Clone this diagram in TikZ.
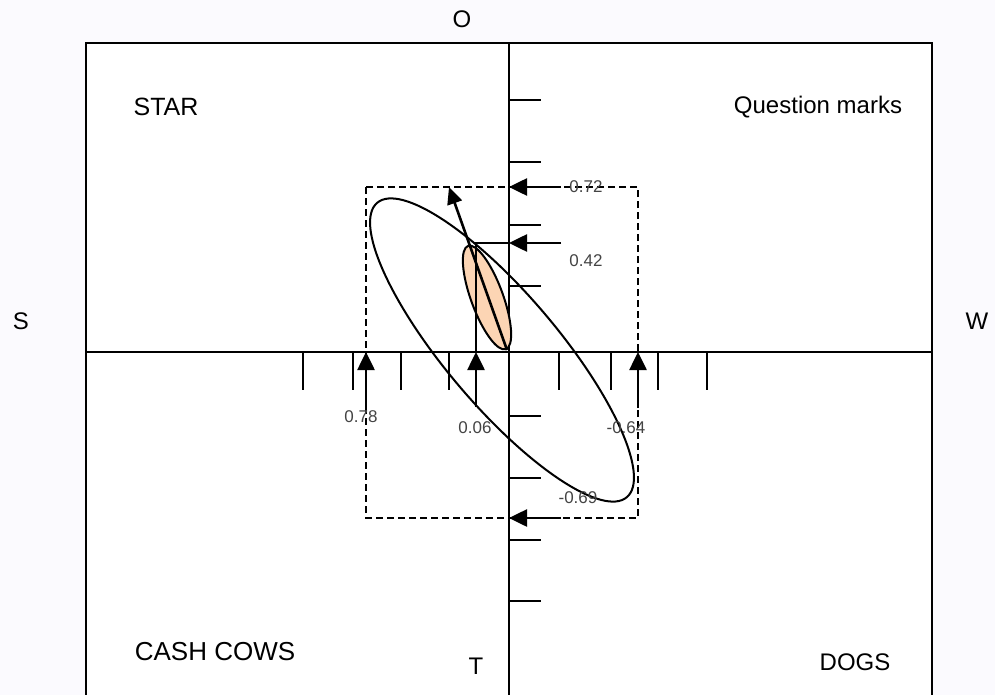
\documentclass[tikz,border=0pt]{standalone}
\usepackage{fontspec}
\setmainfont{Liberation Sans}
\usetikzlibrary{arrows.meta}
\definecolor{bgtint}{RGB}{251,250,254}
\definecolor{peach}{RGB}{252,213,180}
\definecolor{numgray}{RGB}{68,68,68}
\tikzset{
  frame/.style={line width=1.8pt, black},
  axis/.style={line width=2.2pt, black},
  tickmark/.style={line width=2pt, black},
  dashbox/.style={line width=2pt, dash pattern=on 7pt off 4pt},
  ptr/.style={line width=2.6pt, -{Triangle[length=18pt,width=17pt]}},
  ell/.style={line width=2pt},
  quad/.style={inner sep=0pt, font=\fontsize{24}{28}\selectfont},
  num/.style={inner sep=0pt, text=numgray, font=\fontsize{17}{20}\selectfont},
}
\begin{document}
\begin{tikzpicture}[x=1pt,y=-1pt]
\useasboundingbox (0,0) rectangle (995,695);
\fill[bgtint] (0,0) rectangle (995,695);
\fill[white] (86,42.7) rectangle (932,695);
% frame and axes
\draw[frame] (86,700) -- (86,42.7) -- (932,42.7) -- (932,700);
\draw[axis] (509,42.7) -- (509,700);
\draw[axis] (86,352) -- (932,352);
% ticks on vertical axis
\foreach \yy in {100,162,225,286,416,478,540,601}
  \draw[tickmark] (509,\yy) -- (541,\yy);
% ticks below horizontal axis
\foreach \xx in {303,353,401,449,559,611,658,707}
  \draw[tickmark] (\xx,352) -- (\xx,390);
% dashed box
\draw[dashbox] (366,187) rectangle (638,518);
% big ellipse
\draw[ell] (502,350) ellipse [x radius=193, y radius=56, rotate=130.3];
% small filled ellipse
\filldraw[ell, fill=peach] (487,297.5) ellipse [x radius=55, y radius=16, rotate=110.1];
% helper lines
\draw[line width=2pt] (509,243) -- (476,243) -- (476,352);
% coordinates for arrows
\coordinate (a1s) at (561,187); \coordinate (a1e) at (509,187);
\coordinate (a2s) at (561,243); \coordinate (a2e) at (509,243);
\coordinate (a3s) at (561,518); \coordinate (a3e) at (509,518);
\coordinate (b1s) at (366,408); \coordinate (b1e) at (366,352);
\coordinate (b2s) at (476,407); \coordinate (b2e) at (476,352);
\coordinate (b3s) at (638,408); \coordinate (b3e) at (638,352);
\coordinate (vs) at (507,350); \coordinate (ve) at (449,187);
\draw[ptr] (a1s) -- (a1e);
\draw[ptr] (a2s) -- (a2e);
\draw[ptr] (a3s) -- (a3e);
\draw[ptr] (b1s) -- (b1e);
\draw[ptr] (b2s) -- (b2e);
\draw[ptr] (b3s) -- (b3e);
\draw[line width=2.6pt, -{Triangle[length=17pt,width=15pt]}] (vs) -- (ve);
% labels
\node[quad] (lo) at (462,19) {O};
\node[quad] (ls) at (21,321) {S};
\node[quad] (lw) at (977,321) {W};
\node[quad] (lt) at (476,666) {T};
\node[quad, font=\fontsize{25}{29}\selectfont] (star) at (166,107) {STAR};
\node[quad] (qm) at (818,107) {Question marks};
\node[quad, font=\fontsize{26}{30}\selectfont] (cc) at (215,652) {CASH COWS};
\node[quad] (dogs) at (855,662) {DOGS};
% numbers
\node[num] (n72) at (586,187) {0.72};
\node[num] (n42) at (586,261) {0.42};
\node[num] (n78) at (361,417) {0.78};
\node[num] (n06) at (475,428) {0.06};
\node[num] (n64) at (626,428) {-0.64};
\node[num] (n69) at (578,498) {-0.69};
\end{tikzpicture}
\end{document}
